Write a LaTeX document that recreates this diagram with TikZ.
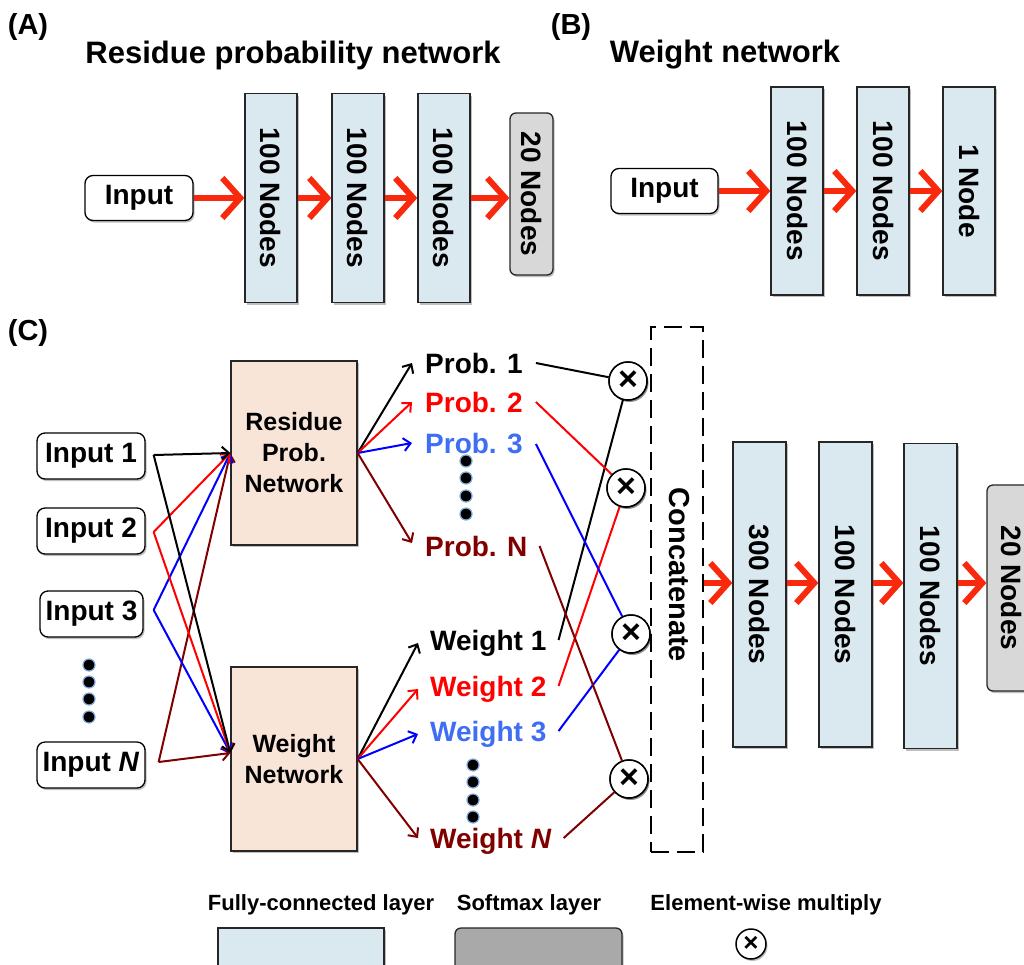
\documentclass[tikz,border=0pt]{standalone}
\usepackage{fontspec}
\setmainfont{Liberation Sans}
\usetikzlibrary{arrows.meta,shadows}
\definecolor{fcblue}{HTML}{DAE8EF}
\definecolor{smgray}{HTML}{D8D8D8}
\definecolor{leggray}{HTML}{A9A9A9}
\definecolor{peach}{HTML}{F9E5D8}
\definecolor{arrred}{HTML}{F8290C}
\definecolor{lred}{HTML}{FF0000}
\definecolor{lblue}{HTML}{0000FF}
\definecolor{tblue}{HTML}{3F6EF5}
\definecolor{dred}{HTML}{800000}
\definecolor{glow}{HTML}{7FA6D9}
\newcommand\fz[1]{\fontsize{#1}{#1}\selectfont\bfseries}
\tikzset{
  shad/.style={drop shadow={shadow xshift=1.5pt,shadow yshift=-2pt,opacity=0.25,fill=black}},
  lay/.style={draw=black!85, line width=1.3pt, fill=fcblue, inner sep=0pt, font=\fz{28}, shad},
  smx/.style={draw=black!85, line width=1.3pt, fill=smgray, rounded corners=6pt, inner sep=0pt, font=\fz{28}, shad},
  inbox/.style={draw=black, line width=1.3pt, fill=white, rounded corners=8pt, inner sep=0pt, font=\fz{28}, shad},
  netbox/.style={draw=black!85, line width=1.3pt, fill=peach, minimum width=126pt, minimum height=184pt,
    inner sep=0pt, align=center, font=\fontsize{25}{31}\selectfont\bfseries, shad},
  bigarrow/.style={draw=arrred, line width=6pt, -{Straight Barb[length=18pt,width=40pt]}},
  thinarrow/.style={line width=2pt, -{Straight Barb[length=7pt,width=13pt]}},
  link/.style={line width=2pt},
  mult/.style={circle, draw=black, line width=1.5pt, fill=white, minimum size=38pt, inner sep=0pt, font=\fz{34}, shad},
  dot/.style={circle, fill=black, draw=glow, line width=1.2pt, minimum size=12pt, inner sep=0pt},
  lbl/.style={font=\fz{29}, inner sep=0pt},
  title/.style={font=\fz{31}, inner sep=0pt},
  plab/.style={font=\fz{28}, inner sep=0pt, anchor=west},
  leg/.style={font=\fz{22}, inner sep=0pt},
}
\begin{document}
\begin{tikzpicture}[x=1pt,y=-1pt]
\useasboundingbox (0,0) rectangle (1024,964);
\clip (0,0) rectangle (1024,964);
\fill[white] (0,0) rectangle (1024,964);

% ---------- Panel A ----------
\node[lbl] (labA) at (28,27) {(A)};
\node[title] (titA) at (293,55) {Residue probability network};
\node[inbox, minimum width=108pt, minimum height=45pt] (inA) at (139,198) {Input};
\node[lay, minimum width=52pt, minimum height=209pt] (a1) at (271,198) {\rotatebox{-90}{100 Nodes}};
\node[lay, minimum width=52pt, minimum height=209pt] (a2) at (358,198) {\rotatebox{-90}{100 Nodes}};
\node[lay, minimum width=52pt, minimum height=209pt] (a3) at (444,198) {\rotatebox{-90}{100 Nodes}};
\node[smx, minimum width=43pt, minimum height=162pt] (a4) at (531.5,194) {\rotatebox{-90}{20 Nodes}};
\draw[bigarrow] (inA.east) -- (a1.west);
\draw[bigarrow] (a1.east) -- (a2.west);
\draw[bigarrow] (a2.east) -- (a3.west);
\draw[bigarrow] (a3.east) -- (a3.east -| a4.west);

% ---------- Panel B ----------
\node[lbl] (labB) at (571,27) {(B)};
\node[title] (titB) at (725,55) {Weight network};
\node[inbox, minimum width=107pt, minimum height=45pt] (inB) at (664.5,191) {Input};
\node[lay, minimum width=52pt, minimum height=208pt] (b1) at (797,191) {\rotatebox{-90}{100 Nodes}};
\node[lay, minimum width=52pt, minimum height=208pt] (b2) at (883,191) {\rotatebox{-90}{100 Nodes}};
\node[lay, minimum width=52pt, minimum height=208pt] (b3) at (969,191) {\rotatebox{-90}{1 Node}};
\draw[bigarrow] (inB.east) -- (b1.west);
\draw[bigarrow] (b1.east) -- (b2.west);
\draw[bigarrow] (b2.east) -- (b3.west);

% ---------- Panel C ----------
\node[lbl] (labC) at (28,333) {(C)};
\node[inbox, minimum width=108pt, minimum height=46pt] (in1) at (91,456) {Input 1};
\node[inbox, minimum width=108pt, minimum height=46pt] (in2) at (91,531) {Input 2};
\node[inbox, minimum width=103pt, minimum height=46pt] (in3) at (91.5,614) {Input 3};
\node[inbox, minimum width=108pt, minimum height=46pt] (inN) at (91,765) {Input \textit{N}};
\node[dot] (id1) at (89,665) {};
\node[dot] (id2) at (89,682) {};
\node[dot] (id3) at (89,699) {};
\node[dot] (id4) at (89,717) {};

\node[netbox] (rp) at (294,453) {Residue\\Prob.\\Network};
\node[netbox] (wn) at (294,759) {Weight\\Network};

% inputs to networks
\draw[thinarrow, dred] ([xshift=13pt,yshift=3pt]inN.east) -- (rp.west);
\draw[thinarrow, dred] ([xshift=13pt,yshift=3pt]inN.east) -- ([yshift=6pt]wn.west);
\draw[thinarrow, lblue] ([xshift=10pt,yshift=4pt]in3.east) -- (rp.west);
\draw[thinarrow, lblue] ([xshift=10pt,yshift=4pt]in3.east) -- ([yshift=6pt]wn.west);
\draw[thinarrow, lred] ([xshift=8pt,yshift=-1pt]in2.east) -- (rp.west);
\draw[thinarrow, lred] ([xshift=8pt,yshift=-1pt]in2.east) -- ([yshift=6pt]wn.west);
\draw[thinarrow, black] ([xshift=8pt,yshift=1pt]in1.east) -- (rp.west);
\draw[thinarrow, black] ([xshift=8pt,yshift=1pt]in1.east) -- ([yshift=6pt]wn.west);

% probability labels
\node[plab] (p1) at (425,363) {Prob. 1};
\node[plab, text=lred] (p2) at (425,402) {Prob. 2};
\node[plab, text=tblue] (p3) at (425,444) {Prob. 3};
\node[plab, text=dred] (pN) at (425,546) {Prob. N};
\node[dot] (pd1) at (466,461) {};
\node[dot] (pd2) at (466,478) {};
\node[dot] (pd3) at (466,496) {};
\node[dot] (pd4) at (466,514) {};

\draw[thinarrow, black] (rp.east) -- ([xshift=-13pt]p1.west);
\draw[thinarrow, lred] (rp.east) -- ([xshift=-13pt]p2.west);
\draw[thinarrow, lblue] (rp.east) -- ([xshift=-13pt,yshift=1pt]p3.west);
\draw[thinarrow, dred] (rp.east) -- ([xshift=-13pt,yshift=3pt]pN.west);

% weight labels
\node[plab] (w1) at (430,643) {Weight 1};
\node[plab, text=lred] (w2) at (430,689) {Weight 2};
\node[plab, text=tblue] (w3) at (430,734) {Weight 3};
\node[plab, text=dred] (wN) at (430,841) {Weight \textit{N}};
\node[dot] (wd1) at (473,765) {};
\node[dot] (wd2) at (473,782) {};
\node[dot] (wd3) at (473,800) {};
\node[dot] (wd4) at (473,817) {};

\draw[thinarrow, black] (wn.east) -- ([xshift=-12pt]w1.west);
\draw[thinarrow, lred] (wn.east) -- ([xshift=-12pt]w2.west);
\draw[thinarrow, lblue] (wn.east) -- ([xshift=-12pt]w3.west);
\draw[thinarrow, dred] (wn.east) -- ([xshift=-12pt,yshift=3pt]wN.west);

% multiply nodes
\node[mult] (m1) at (628,381) {×};
\node[mult] (m2) at (626,488) {×};
\node[mult] (m3) at (631,634) {×};
\node[mult] (m4) at (629,779) {×};

\draw[link, black] ([xshift=13pt]p1.east) -- (m1);
\draw[link, black] ([xshift=12pt,yshift=3pt]w1.east) -- (m1);
\draw[link, lred] ([xshift=13pt]p2.east) -- (m2);
\draw[link, lred] ([xshift=12pt,yshift=3pt]w2.east) -- (m2);
\draw[link, lblue] ([xshift=13pt]p3.east) -- (m3);
\draw[link, lblue] ([xshift=12pt,yshift=3pt]w3.east) -- (m3);
\draw[link, dred] ([xshift=12pt]pN.east) -- (m4);
\draw[link, dred] ([xshift=12pt,yshift=3pt]wN.east) -- (m4);
% circles drawn again on top of the links
\node[mult] at (m1) {×};
\node[mult] at (m2) {×};
\node[mult] at (m3) {×};
\node[mult] at (m4) {×};

% concatenate
\node[draw=black, line width=2.8pt, dash pattern=on 18pt off 8pt, minimum width=52pt, minimum height=525pt, inner sep=0pt] (cat) at (677,589.5) {};
\node[font=\fz{29}, inner sep=0pt] (catl) at (679,575) {\rotatebox{-90}{Concatenate}};

% final layers
\node[lay, minimum width=53pt, minimum height=305pt] (c1) at (759.5,594.5) {\rotatebox{-90}{300 Nodes}};
\node[lay, minimum width=53pt, minimum height=305pt] (c2) at (845.5,594.5) {\rotatebox{-90}{100 Nodes}};
\node[lay, minimum width=53pt, minimum height=305pt] (c3) at (930.5,596) {\rotatebox{-90}{100 Nodes}};
\node[smx, minimum width=48pt, minimum height=206pt] (c4) at (1011,588) {\rotatebox{-90}{20 Nodes}};
\coordinate (ay) at (0,583);
\draw[bigarrow] (cat.east |- ay) -- (c1.west |- ay);
\draw[bigarrow] (c1.east |- ay) -- (c2.west |- ay);
\draw[bigarrow] (c2.east |- ay) -- (c3.west |- ay);
\draw[bigarrow] (c3.east |- ay) -- (c4.west |- ay);

% ---------- Legend ----------
\node[leg] (lg1) at (321,905) {Fully-connected layer};
\node[leg] (lg2) at (529,905) {Softmax layer};
\node[leg] (lg3) at (766,905) {Element-wise multiply};
\node[lay, minimum width=166pt, minimum height=60pt] (lgb1) at (301,958) {};
\node[smx, fill=leggray, minimum width=167pt, minimum height=60pt] (lgb2) at (538.5,958) {};
\node[mult, minimum size=30pt, font=\fz{26}] (lgm) at (751,944) {×};
\end{tikzpicture}
\end{document}
